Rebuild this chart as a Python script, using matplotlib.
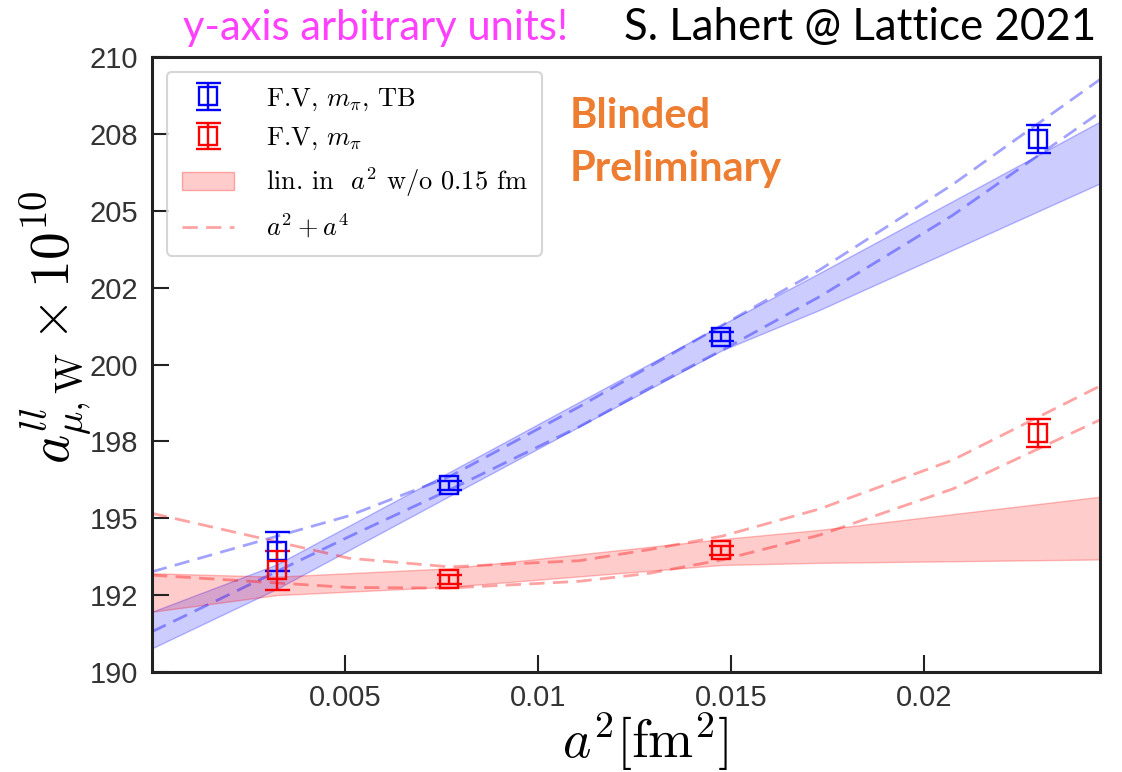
import matplotlib
matplotlib.use("Agg")
import matplotlib.pyplot as plt
from matplotlib.lines import Line2D
from matplotlib.patches import Patch

plt.rcParams['mathtext.fontset'] = 'cm'

# ---- data ----
a2 = [0.00323, 0.0077, 0.01474, 0.02295]
blue_y = [193.92, 196.07, 200.90, 207.33]
blue_err = [0.63, 0.15, 0.15, 0.46]
red_y = [193.31, 193.02, 193.96, 197.78]
red_err = [0.63, 0.15, 0.15, 0.46]

band_x = [0.0, 0.00323, 0.0077, 0.01474, 0.01728, 0.02455]
blue_band_lo = [190.77, 192.70, 195.72, 200.45, 201.77, 205.89]
blue_band_hi = [191.96, 193.50, 196.50, 201.28, 202.97, 207.90]
red_band_lo = [191.96, 192.50, 192.77, 193.48, 193.55, 193.66]
red_band_hi = [193.21, 193.10, 193.37, 194.32, 194.62, 195.70]

curve_x = [0.0, 0.0051, 0.0077, 0.01107, 0.01288, 0.01477, 0.01728, 0.02073, 0.02455]
blue_dash_1 = [193.26, 195.08, 196.35, 198.63, 199.93, 201.28, 203.07, 205.85, 209.27]
blue_dash_2 = [191.31, 194.40, 195.92, 197.98, 199.23, 200.47, 202.20, 204.85, 208.20]
red_dash_1 = [195.16, 193.70, 193.42, 193.62, 193.98, 194.42, 195.30, 196.89, 199.30]
red_dash_2 = [193.15, 192.75, 192.73, 192.95, 193.21, 193.65, 194.45, 195.95, 198.20]

yticks = [190, 192.5, 195, 197.5, 200, 202.5, 205, 207.5, 210]
ytick_labels = ['190', '192', '195', '198', '200', '202', '205', '208', '210']
xticks = [0.005, 0.01, 0.015, 0.02]
xtick_labels = ['0.005', '0.01', '0.015', '0.02']

legend_labels = [r'F.V, $m_\pi$, TB',
                 r'F.V, $m_\pi$',
                 r'lin. in  $a^2$ w/o 0.15 fm',
                 r'$a^2+a^4$']

# ---- figure ----
W, H = 1122, 772
fig = plt.figure(figsize=(W / 100, H / 100), dpi=100)
ax = fig.add_axes([152 / W, (H - 672) / H, (1100 - 152) / W, (672 - 57) / H])

dash = (5.5, 3)
LW = 2.0
ax.fill_between(band_x, blue_band_lo, blue_band_hi, facecolor=(0, 0, 1, 0.2),
                edgecolor=(0, 0, 1, 0.25), linewidth=1.0, zorder=1)
ax.fill_between(band_x, red_band_lo, red_band_hi, facecolor=(1, 0, 0, 0.2),
                edgecolor=(1, 0, 0, 0.25), linewidth=1.0, zorder=1)
for yy in (blue_dash_1, blue_dash_2):
    ax.plot(curve_x, yy, color='blue', alpha=0.36, lw=LW, dashes=dash, zorder=2)
for yy in (red_dash_1, red_dash_2):
    ax.plot(curve_x, yy, color='red', alpha=0.36, lw=LW, dashes=dash, zorder=2)

eb_kw = dict(fmt='s', mfc='none', ms=13, mew=1.7, capsize=9, elinewidth=1.7,
             capthick=1.7, zorder=3)
eb_b = ax.errorbar(a2, blue_y, yerr=blue_err, color='blue', mec='blue', **eb_kw)
eb_r = ax.errorbar(a2, red_y, yerr=red_err, color='red', mec='red', **eb_kw)

ax.set_xlim(0, 0.02455)
ax.set_ylim(190, 210)
ax.set_yticks(yticks)
ax.set_yticklabels(ytick_labels)
ax.set_xticks(xticks)
ax.set_xticklabels(xtick_labels)

tick_font = ['Liberation Sans', 'DejaVu Sans']
for lab in ax.get_xticklabels() + ax.get_yticklabels():
    lab.set_family(tick_font)
    lab.set_fontsize(21)
    lab.set_color('#333333')
ax.tick_params(direction='in', length=12, width=1.5, color='#222222')
ax.tick_params(axis='x', pad=9)
ax.tick_params(axis='y', pad=10)
for sp in ax.spines.values():
    sp.set_linewidth(2.2)
    sp.set_color('#222222')

ax.set_xlabel(r'$a^2[\mathrm{fm}^2]$', fontsize=39)
ax.xaxis.set_label_coords((645 - 152) / 948, (672 - 710) / 615)
ax.set_ylabel(r'$a^{ll}_{\mu,\mathrm{W}}\times 10^{10}$', fontsize=40)
ax.yaxis.set_label_coords((94 - 152) / 948, (672 - 327) / 615)

h_patch = Patch(facecolor=(1, 0, 0, 0.2), edgecolor=(1, 0, 0, 0.3))
h_dash = Line2D([], [], color='red', alpha=0.36, lw=LW, dashes=dash)
leg = ax.legend([eb_b, eb_r, h_patch, h_dash], legend_labels, loc='upper left',
                prop={'family': 'cmr10', 'size': 19}, frameon=True, fancybox=True,
                framealpha=0.8, edgecolor='#cccccc', borderpad=0.55,
                labelspacing=0.5, handlelength=2.0, handletextpad=1.2,
                borderaxespad=0, bbox_to_anchor=(15 / 948, 1 - 15 / 615))
leg.get_frame().set_linewidth(1.5)

fig.text(183 / W, 1 - 40 / H, 'y-axis arbitrary units!', color='#FF40FF',
         fontsize=30, family='Lato', ha='left', va='baseline')
fig.text(1096 / W, 1 - 40 / H, 'S. Lahert @ Lattice 2021', color='black',
         fontsize=31.6, family='Lato', ha='right', va='baseline')
fig.text(570 / W, 1 - 128 / H, 'Blinded', color='#ED7D31', fontsize=30,
         family='Lato', weight='bold', ha='left', va='baseline')
fig.text(570 / W, 1 - 181 / H, 'Preliminary', color='#ED7D31', fontsize=30,
         family='Lato', weight='bold', ha='left', va='baseline')

fig.savefig('out.png', dpi=100)
